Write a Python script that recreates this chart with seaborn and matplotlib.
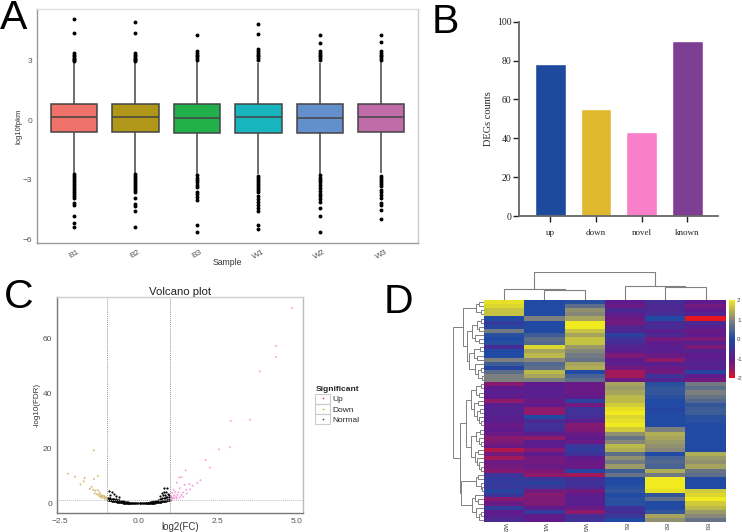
import numpy as np
import pandas as pd
import matplotlib
matplotlib.use("Agg")
import matplotlib.pyplot as plt
from matplotlib.colors import LinearSegmentedColormap
from matplotlib.lines import Line2D
from matplotlib.patches import Rectangle
import seaborn as sns

# Panel A: box summaries and outliers per sample
samples = ["B1", "B2", "B3", "W1", "W2", "W3"]
box_colors = ["#EE7269", "#B0971A", "#22B04B", "#19B5BF", "#6390CC", "#C06CA9"]
q1 = [-0.60, -0.60, -0.63, -0.63, -0.63, -0.58]
med = [0.17, 0.15, 0.13, 0.15, 0.12, 0.18]
q3 = [0.79, 0.80, 0.80, 0.79, 0.79, 0.83]
whisker_low = [-2.65, -2.65, -2.70, -2.72, -2.70, -2.60]
whisker_high = [2.85, 2.87, 2.90, 2.88, 2.88, 2.92]
outliers = {
    "B1": [5.08, 4.37, 3.40, 3.30, 3.20, 3.12, 3.05, 3.00, 2.95, -2.72, -2.80, -2.90, -3.00, -3.10, -3.20,
           -3.30, -3.40, -3.50, -3.60, -3.70, -3.80, -3.90, -4.18, -4.25, -4.85, -5.20, -5.40],
    "B2": [4.93, 4.40, 3.40, 3.30, 3.20, 3.12, 3.05, 3.00, 2.95, -2.72, -2.80, -2.90, -3.00, -3.10, -3.20,
           -3.30, -3.40, -3.50, -3.60, -3.90, -4.20, -4.30, -4.55, -5.40],
    "B3": [4.30, 3.50, 3.40, 3.30, 3.20, 3.10, 3.00, -2.78, -2.90, -3.00, -3.10, -3.25, -3.35, -3.60, -3.70,
           -3.85, -4.00, -5.30, -5.65],
    "W1": [4.82, 4.32, 3.60, 3.50, 3.40, 3.30, 3.20, 3.10, 3.00, -2.80, -2.90, -3.00, -3.10, -3.20, -3.30,
           -3.40, -3.50, -3.60, -3.80, -3.95, -4.10, -4.25, -4.40, -4.55, -5.30, -5.50],
    "W2": [4.28, 3.90, 3.50, 3.40, 3.30, 3.20, 3.10, 3.00, -2.78, -2.90, -3.00, -3.10, -3.25, -3.40, -3.55,
           -3.70, -3.80, -3.95, -4.10, -4.40, -4.85, -5.65],
    "W3": [4.28, 3.95, 3.50, 3.40, 3.30, 3.20, 3.10, 3.00, -2.68, -2.80, -2.90, -3.00, -3.10, -3.20, -3.30,
           -3.50, -3.60, -3.75, -3.90, -4.15, -4.25, -4.50, -5.00],
}

# Panel B
deg_labels = ["up", "down", "novel", "known"]
deg_counts = [78, 55, 43, 90]
deg_colors = ["#1D4A9C", "#E0B92F", "#F97FCB", "#7E3F93"]

# Panel C: volcano points
up_x = [4.85, 4.35, 4.35, 3.83, 3.52, 2.91, 2.89, 2.54, 2.11, 2.25, 1.48, 1.35, 1.28, 1.95, 1.85, 1.70, 1.60,
        1.45, 1.20, 1.10, 1.30, 1.50, 1.62, 1.40, 1.25, 1.15, 1.05, 1.35, 1.22, 1.12, 1.02, 1.30, 1.18, 1.08,
        1.02, 1.40, 1.52, 1.12, 1.05, 1.20]
up_y = [71.0, 57.2, 53.2, 48.0, 30.4, 30.0, 20.4, 19.6, 15.7, 13.0, 12.0, 9.5, 9.4, 8.4, 7.4, 6.4, 7.0,
        6.7, 7.5, 4.9, 5.5, 4.9, 5.1, 3.9, 4.0, 4.1, 3.8, 3.0, 3.1, 2.9, 2.7, 2.2, 2.3, 2.2, 1.9, 2.4,
        3.6, 1.8, 1.6, 1.8]
down_x = [-2.24, -2.02, -1.72, -1.43, -1.30, -1.42, -1.75, -1.85, -1.50, -1.45, -1.55, -1.38, -1.30, -1.25,
          -1.40, -1.33, -1.28, -1.22, -1.18, -1.25, -1.15, -1.12, -1.08, -1.18, -1.10, -1.05, -1.03, -1.08,
          -1.02, -1.20]
down_y = [10.8, 9.7, 9.2, 19.3, 10.0, 8.8, 8.0, 6.9, 6.0, 4.9, 5.3, 4.6, 4.8, 4.0, 3.6, 3.3, 3.1, 3.3, 2.9,
          2.6, 2.4, 2.8, 2.5, 2.0, 2.0, 1.9, 2.2, 1.7, 1.5, 2.4]
# the dense bowl around zero
normal_x = [-0.98, -0.96, -0.94, -0.92, -0.90, -0.88, -0.86, -0.84, -0.82, -0.80, -0.78, -0.76, -0.74, -0.72,
            -0.70, -0.68, -0.66, -0.64, -0.62, -0.60, -0.58, -0.56, -0.54, -0.52, -0.50, -0.48, -0.46, -0.44,
            -0.42, -0.40, -0.38, -0.36, -0.34, -0.32, -0.30, -0.28, -0.26, -0.24, -0.22, -0.20, -0.17, -0.14,
            -0.11, -0.08, -0.05, -0.02, 0.02, 0.05, 0.08, 0.11, 0.14, 0.17, 0.20, 0.22, 0.24, 0.26, 0.28, 0.30,
            0.32, 0.34, 0.36, 0.38, 0.40, 0.42, 0.44, 0.46, 0.48, 0.50, 0.52, 0.54, 0.56, 0.58, 0.60, 0.62,
            0.64, 0.66, 0.68, 0.70, 0.72, 0.74, 0.76, 0.78, 0.80, 0.82, 0.84, 0.86, 0.88, 0.90, 0.92, 0.94,
            0.96, 0.98]
normal_y = [1.30, 1.25, 1.20, 1.15, 1.10, 1.05, 1.00, 0.95, 0.90, 0.85, 0.80, 0.76, 0.72, 0.68, 0.64, 0.60,
            0.56, 0.52, 0.48, 0.45, 0.42, 0.39, 0.36, 0.33, 0.30, 0.27, 0.25, 0.23, 0.21, 0.19, 0.17, 0.15,
            0.13, 0.11, 0.10, 0.09, 0.08, 0.07, 0.06, 0.05, 0.04, 0.03, 0.02, 0.01, 0.00, 0.00, 0.00, 0.00,
            0.01, 0.02, 0.03, 0.04, 0.05, 0.06, 0.07, 0.08, 0.09, 0.10, 0.11, 0.13, 0.15, 0.17, 0.19, 0.21,
            0.23, 0.25, 0.27, 0.30, 0.33, 0.36, 0.39, 0.42, 0.45, 0.48, 0.52, 0.56, 0.60, 0.64, 0.68, 0.72,
            0.76, 0.80, 0.85, 0.90, 0.95, 1.00, 1.05, 1.10, 1.15, 1.20, 1.25, 1.30]
# the upper edge of the bowl and the loose points above it
normal_hi_x = [-0.98, -0.94, -0.90, -0.86, -0.82, -0.78, -0.74, -0.70, -0.66, -0.62, -0.58, -0.54, -0.50, -0.46,
               -0.42, -0.38, -0.34, -0.30, 0.30, 0.34, 0.38, 0.42, 0.46, 0.50, 0.54, 0.58, 0.62, 0.66, 0.70, 0.74,
               0.78, 0.82, 0.86, 0.90, 0.94, 0.98,
               -0.95, -0.90, -0.84, -0.78, -0.72, -0.64, 0.66, 0.72, 0.75, 0.78, 0.80, 0.84, 0.86, 0.88, 0.92, 0.95]
normal_hi_y = [2.00, 1.90, 1.85, 1.75, 1.65, 1.55, 1.45, 1.35, 1.25, 1.15, 1.00, 0.90, 0.80, 0.70, 0.55, 0.45,
               0.38, 0.30, 0.30, 0.38, 0.45, 0.55, 0.70, 0.80, 0.90, 1.00, 1.20, 1.40, 1.60, 1.80, 2.00, 2.10,
               2.20, 2.30, 2.30, 2.30,
               4.50, 2.90, 4.00, 3.30, 2.80, 2.30, 2.60, 3.60, 3.00, 4.10, 5.40, 3.10, 4.20, 5.60, 3.40, 2.90]
volcano_ticks_x = [-2.5, 0.0, 2.5, 5.0]
volcano_ticks_y = [0, 20, 40, 60]

# Panel D: heatmap columns, 54 rows top to bottom
heat_cols = ["W2", "W1", "W3", "B1", "B2", "B3"]
W2 = [1.9, 1.8, 1.6, 1.6, 0.0, -0.3, -0.1, 0.8, 0.1, 0.0, 0.1, -0.6, 0.0, 0.0, 0.9, 0.3, -0.1, 0.6, 0.9, 0.9,
      -1.4, -1.0, -0.9, -1.0, -1.5, -0.9, -0.8, -0.8, -0.9, -0.9, -1.1, -1.0, -1.1, -1.4, -1.3, -1.1, -1.7, -1.2,
      -1.6, -1.1, -1.2, -1.4, -0.5, -0.3, -0.3, -0.4, -0.1, -0.4, -1.4, -1.1, -0.3, -1.0, -0.9, -0.7]
W1 = [0.0, 0.0, 0.0, 0.0, 0.9, 0.0, 0.0, 0.0, 0.3, 0.6, 0.5, 1.8, 1.3, 1.5, 1.0, 0.5, 0.6, 1.5, 1.3, 0.9,
      -1.0, -0.9, -0.9, -0.9, -1.1, -1.0, -1.5, -1.5, 0.0, -0.7, -0.5, -0.6, -0.9, -1.5, -0.9, -1.0, -1.4, -1.0,
      -1.2, -1.2, -1.1, -1.3, -1.5, -0.4, -0.2, -0.4, -1.2, -1.4, -1.3, -1.3, -1.0, -0.3, -1.0, -1.0]
W3 = [0.1, 0.6, 1.1, 1.0, 1.3, 2.0, 2.0, 1.6, 1.3, 1.6, 1.6, 1.2, 1.0, 0.8, 0.7, 1.3, 1.4, 0.0, 0.4, 0.6,
      -1.1, -1.1, -1.1, -1.0, -0.2, -1.2, -0.5, -0.5, -0.6, -0.9, -1.4, -1.3, -1.1, -1.0, -1.1, -0.4, -0.3, -0.5,
      -1.0, -1.1, -1.1, -0.1, -1.6, -0.6, -0.5, -0.6, -1.2, -1.0, -0.9, -0.9, -1.1, -1.5, -0.6, -0.5]
B1 = [-1.0, -1.1, -0.7, -0.9, -1.1, -1.2, -0.8, -0.7, -0.2, -0.5, -0.6, -0.8, -0.9, -1.3, -1.0, -0.9, -1.2, -1.6,
      -1.6, -1.1,
      1.3, 1.2, 1.3, 1.5, 1.5, 1.7, 1.9, 2.0, 1.8, 1.9, 2.0, 1.7, 1.1, 0.7, 1.0, 1.5, 1.4, 0.6, 1.1, 0.8, 1.2, 0.3,
      0.7, 0.0, 0.0, 0.1, 0.2, 0.0, 0.1, 0.1, -0.5, -0.6, -0.4, 0.0]
B2 = [-0.6, -0.7, -0.7, -0.6, 0.0, -0.7, -0.6, -0.9, -0.7, -1.2, -1.0, -0.9, -0.9, -1.1, -1.5, -0.9, -1.1, -1.2,
      -0.5, -0.8,
      0.1, 0.2, 0.2, 0.1, 0.0, 0.0, -0.1, 0.0, 0.0, 0.0, 0.0, 0.9, 1.4, 1.3, 1.2, 1.1, 1.0, 0.0, 0.4, 0.5, 0.4, 1.4,
      0.8, 2.0, 2.0, 2.0, 1.9, 0.2, 0.6, 0.0, 0.0, 0.2, 1.3, 1.1]
B3 = [-1.0, -1.2, -1.0, -0.8, -2.0, -0.7, -0.9, -1.1, -1.0, -1.3, -0.9, -1.3, -0.8, -1.0, -0.9, -0.8, -0.9, -0.1,
      -1.0, -1.2,
      0.8, 0.6, 0.9, 0.7, 0.5, 0.2, 0.3, 0.3, 0.1, 0.1, 0.0, 0.0, 0.0, 0.0, 0.0, 0.0, 0.0, 1.4, 1.2, 1.1, 1.3, 0.7,
      0.6, 0.0, 0.0, 0.0, 1.7, 1.8, 2.0, 1.7, 1.5, 1.2, 1.0, 0.7]
heat_colors = ["#E8141E", "#8F1A6A", "#5F1A8C", "#1F4AA3", "#85857A", "#F0EA1E"]
heat_stops = [0.0, 0.125, 0.25, 0.5, 0.75, 1.0]

# Dendrograms as (height, left, right) with leaves as row / column numbers
col_tree = (83, (33, 0, (30, 1, 2)), (41, 3, (38, 4, 5)))
row_tree = (92,
            (64,
             (24, (14, 0, 1), (10, 2, 3)),
             (52,
              (36, (22, (8, 4, 5), (14, 6, 7)), (28, 8, (16, 9, 10))),
              (44, (30, (12, 11, 12), (20, 13, 14)), (26, 15, (18, (10, 16, 17), (6, 18, 19)))))),
            (72,
             (54,
              (40, (24, (10, 20, 21), (16, 22, 23)), (30, (18, 24, 25), (22, (12, 26, 27), (14, 28, (8, 29, 30))))),
              (38, (24, (12, 31, 32), (16, 33, (8, 34, 35))), (28, (18, 36, 37), (22, 38, (14, 39, (10, 40, 41)))))),
             (70,
              (24, (18, 42, 43), (10, 44, (6, 45, 46))),
              (36, (26, 47, (18, 48, 49)), (24, 50, (14, (8, 51, 52), 53))))))

W, H = 742, 532
sns.set_theme(style="white")
plt.rcParams["font.family"] = ["Liberation Sans", "DejaVu Sans"]
fig = plt.figure(figsize=(W / 100, H / 100), dpi=100)


def px_axes(left, top, right, bottom):
    return fig.add_axes([left / W, 1 - bottom / H, (right - left) / W, (bottom - top) / H])


def draw_tree(ax, node, horizontal):
    # returns leaf position and height of a node, draws the U shape for it
    if not isinstance(node, tuple):
        return node + 0.5, 0
    h, left, right = node
    p1, h1 = draw_tree(ax, left, horizontal)
    p2, h2 = draw_tree(ax, right, horizontal)
    pos = [p1, p1, p2, p2]
    hts = [h1, h, h, h2]
    if horizontal:
        ax.plot(hts, pos, color="#808080", lw=0.7, solid_joinstyle="miter")
    else:
        ax.plot(pos, hts, color="#808080", lw=0.8, solid_joinstyle="miter")
    return (p1 + p2) / 2, h


# A: boxplot
rows = []
for i, s in enumerate(samples):
    # quartile blocks so the box comes out at the values
    vals = [q1[i]] * 300 + [med[i]] * 200 + [q3[i]] * 300 + [whisker_low[i], whisker_high[i]] + outliers[s]
    rows.append(pd.DataFrame({"Sample": s, "value": vals}))
box_df = pd.concat(rows)

ax_a = px_axes(37.3, 9, 418.3, 243.3)
sns.boxplot(data=box_df, x="Sample", y="value", hue="Sample", palette=box_colors, legend=False, saturation=1,
            width=0.75, linecolor="#444444", linewidth=1.1, fliersize=1.8, showcaps=False, ax=ax_a,
            flierprops={"markerfacecolor": "black", "markeredgecolor": "black"})
ax_a.set_xlim(-0.597, 5.6)
ax_a.set_ylim(-6.2, 5.59)
ax_a.set_yticks([3, 0, -3, -6])
ax_a.set_yticklabels(["3", "0", "\u22123", "\u22126"])
ax_a.tick_params(axis="both", length=2, width=0.7, color="#777777", labelsize=6, labelcolor="#555555", pad=1.5)
ax_a.tick_params(axis="x", rotation=30)
ax_a.set_xlabel("Sample", fontsize=6.2, color="#333333")
ax_a.xaxis.set_label_coords(0.5, -0.062)
ax_a.set_ylabel("log10fpkm", fontsize=5.5, color="#333333")
ax_a.yaxis.set_label_coords(-0.04, 0.5)
for side, c in zip(["left", "bottom", "top", "right"], ["#999999", "#999999", "#DDDDDD", "#CCCCCC"]):
    ax_a.spines[side].set_color(c)
    ax_a.spines[side].set_linewidth(1.0)

# B: bars
ax_b = px_axes(519.3, 21.7, 718, 216)
sns.barplot(x=deg_labels, y=deg_counts, hue=deg_labels, palette=deg_colors, legend=False, saturation=1,
            width=0.67, ax=ax_b)
ax_b.set_xlim(-0.68, 3.67)
ax_b.set_ylim(0, 100)
ax_b.set_yticks(range(0, 101, 20))
ax_b.tick_params(axis="both", bottom=True, left=True, length=4.2, width=1.0, color="#222222", labelsize=7,
                 labelcolor="#222222", pad=1.5)
ax_b.tick_params(axis="x", pad=5, labelsize=6.5)
for lab in ax_b.get_xticklabels() + ax_b.get_yticklabels():
    lab.set_family("Liberation Serif")
ax_b.set_ylabel("DEGs counts", fontsize=7.5, family="Liberation Serif", color="#222222")
ax_b.yaxis.set_label_coords(-0.132, 0.5)
sns.despine(ax=ax_b)
ax_b.spines["left"].set_color("#666666")
ax_b.spines["bottom"].set_color("#666666")
ax_b.spines["left"].set_linewidth(1.3)
ax_b.spines["bottom"].set_linewidth(1.3)

# C: volcano
volcano = pd.DataFrame({
    "log2FC": normal_x + normal_hi_x + down_x + up_x,
    "fdr": normal_y + normal_hi_y + down_y + up_y,
    "Significant": ["Normal"] * (len(normal_x) + len(normal_hi_x)) + ["Down"] * len(down_x) + ["Up"] * len(up_x),
})
volcano_colors = {"Up": "#F9A0DC", "Down": "#D9BC78", "Normal": "#000000"}
ax_c = px_axes(57.3, 297.3, 302.7, 512.7)
sns.scatterplot(data=volcano[volcano["Significant"] == "Normal"], x="log2FC", y="fdr", color="black", s=2.5,
                linewidth=0, ax=ax_c, legend=False)
sns.scatterplot(data=volcano[volcano["Significant"] != "Normal"], x="log2FC", y="fdr", hue="Significant",
                palette=volcano_colors, s=2, linewidth=0, ax=ax_c, legend=False)
ax_c.axvline(-1, color="#999999", lw=0.7, ls=(0, (1, 1)))
ax_c.axvline(1, color="#999999", lw=0.7, ls=(0, (1, 1)))
ax_c.axhline(1.3, color="#BBBBBB", lw=0.7, ls=(0, (1, 1)))
ax_c.set_xlim(-2.585, 5.19)
ax_c.set_ylim(-3.4, 74.9)
ax_c.set_xticks(volcano_ticks_x)
ax_c.set_xticklabels(["\u22122.5", "0.0", "2.5", "5.0"])
ax_c.set_yticks(volcano_ticks_y)
ax_c.tick_params(axis="both", length=2, width=0.7, color="#777777", labelsize=6, labelcolor="#555555", pad=1.5)
ax_c.set_xlabel("log2(FC)", fontsize=7, color="#333333")
ax_c.xaxis.set_label_coords(0.5, -0.042)
ax_c.set_ylabel("-log10(FDR)", fontsize=5.8, color="#333333")
ax_c.yaxis.set_label_coords(-0.068, 0.5)
ax_c.set_title("Volcano plot", fontsize=8.2, color="#222222", pad=1.5)
for side, c in zip(["left", "bottom", "top", "right"], ["#777777", "#777777", "#CCCCCC", "#BBBBBB"]):
    ax_c.spines[side].set_color(c)
    ax_c.spines[side].set_linewidth(1.0)

# legend for C with ggplot style key boxes
handles = [Line2D([], [], ls="", marker="o", ms=1.2, mew=0, color=c) for c in ["#F0407A", "#C9A84A", "#444444"]]
leg = fig.legend(handles, ["Up", "Down", "Normal"], title="Significant", loc="upper left",
                 bbox_to_anchor=(309.5 / W, 1 - 380.5 / H), frameon=False, fontsize=6, title_fontsize=6,
                 handletextpad=0.25, labelspacing=0.27, borderpad=0.2, handlelength=1.8, alignment="left")
leg.get_title().set_fontweight("bold")
for k in range(3):
    fig.add_artist(Rectangle((315 / W, 1 - (393.5 + (k + 1) * 10.3) / H), 14.5 / W, 10.3 / H,
                             transform=fig.transFigure, fill=False, ec="#CCCCCC", lw=0.8))

# D: heatmap with typed dendrograms
heat_df = pd.DataFrame({"W2": W2, "W1": W1, "W3": W3, "B1": B1, "B2": B2, "B3": B3}, columns=heat_cols)
heat_cmap = LinearSegmentedColormap.from_list("heat", list(zip(heat_stops, heat_colors)))
ax_d = px_axes(484, 300, 725.7, 522)
ax_cb = px_axes(729, 300, 735, 378.3)
sns.heatmap(heat_df, cmap=heat_cmap, vmin=-2, vmax=2, ax=ax_d, cbar_ax=ax_cb, yticklabels=False,
            xticklabels=heat_cols, cbar_kws={"ticks": [-2, -1, 0, 1, 2]})
ax_d.tick_params(axis="x", length=0, labelsize=4.5, labelcolor="#444444", pad=0.5)
for lab in ax_d.get_xticklabels():
    lab.set_rotation(270)
    lab.set_va("top")
ax_d.set_ylabel("")
ax_cb.tick_params(length=0, labelsize=4.5, labelcolor="#444444", pad=1.5)
ax_cb.set_yticklabels(["-2", "-1", "0", "1", "2"])

ax_top = px_axes(484, 272, 725.7, 300)
draw_tree(ax_top, col_tree, False)
ax_top.set_xlim(0, 6)
ax_top.set_ylim(0, 84)
ax_top.axis("off")

ax_left = px_axes(452.7, 300, 484, 522)
draw_tree(ax_left, row_tree, True)
ax_left.set_xlim(94, 0)
ax_left.set_ylim(54, 0)
ax_left.axis("off")

# panel letters
for letter, x, y in [("A", 0, 29), ("B", 432, 33), ("C", 4, 308), ("D", 384, 313)]:
    fig.text(x / W, 1 - y / H, letter, fontsize=29.5, color="black", ha="left", va="baseline")

fig.savefig("out.png", dpi=100)
